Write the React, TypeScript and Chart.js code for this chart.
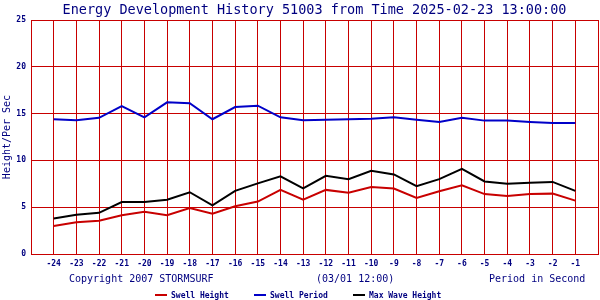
import React, { useEffect, useRef } from "react";
import { Chart, registerables } from "chart.js";

Chart.register(...registerables);

const TITLE = "Energy Development History 51003 from Time 2025-02-23 13:00:00";
const Y_TITLE = "Height/Per Sec";
const FOOTER_LEFT = "Copyright 2007 STORMSURF";
const FOOTER_MID = "(03/01 12:00)";
const FOOTER_RIGHT = "Period in Second";

const hours = [-24, -23, -22, -21, -20, -19, -18, -17, -16, -15, -14, -13, -12, -11, -10, -9, -8, -7, -6, -5, -4, -3, -2, -1];
const swellHeight = [3.0, 3.4, 3.55, 4.15, 4.5, 4.15, 4.9, 4.3, 5.1, 5.6, 6.85, 5.8, 6.85, 6.55, 7.15, 7.0, 6.0, 6.7, 7.35, 6.4, 6.2, 6.4, 6.45, 5.7];
const swellPeriod = [14.4, 14.3, 14.55, 15.8, 14.6, 16.2, 16.1, 14.4, 15.7, 15.85, 14.6, 14.3, 14.35, 14.4, 14.45, 14.6, 14.35, 14.1, 14.55, 14.25, 14.25, 14.1, 14.0, 14.0];
const maxWaveHeight = [3.8, 4.2, 4.4, 5.55, 5.55, 5.8, 6.6, 5.2, 6.75, 7.55, 8.3, 7.0, 8.35, 8.0, 8.9, 8.5, 7.25, 8.0, 9.1, 7.75, 7.5, 7.6, 7.7, 6.75];

const seriesNames = ["Swell Height", "Swell Period", "Max Wave Height"];
const seriesColors = ["#c80000", "#0000c8", "#000000"];
const xMin = -25;
const xMax = 0;
const yMin = 0;
const yMax = 25;
const yStep = 5;

const NAVY = "#000080";
const GRID = "#c80000";
const MONO = "'DejaVu Sans Mono', monospace";

const textPlugin = {
  id: "stormTexts",
  afterDraw(chart: any) {
    const ctx = chart.ctx as CanvasRenderingContext2D;
    const area = chart.chartArea;
    ctx.save();
    ctx.fillStyle = NAVY;
    ctx.textBaseline = "alphabetic";
    // title
    ctx.font = `13.5px ${MONO}`;
    ctx.textAlign = "center";
    ctx.fillText(TITLE, (area.left + area.right) / 2, 14);
    // footers
    ctx.font = `10px ${MONO}`;
    ctx.textAlign = "left";
    ctx.fillText(FOOTER_LEFT, 69, 282);
    ctx.fillText(FOOTER_MID, 316, 282);
    ctx.fillText(FOOTER_RIGHT, 489, 282);
    // legend
    const starts = [155, 254, 353];
    ctx.font = `bold 8px ${MONO}`;
    seriesNames.forEach((name, i) => {
      ctx.fillStyle = seriesColors[i];
      ctx.fillRect(starts[i], 294, 12, 2);
      ctx.fillStyle = NAVY;
      ctx.fillText(name, starts[i] + 16, 298);
    });
    ctx.restore();
  },
};

export default function App() {
  const ref = useRef<HTMLCanvasElement | null>(null);
  useEffect(() => {
    document.body.style.margin = "0";
    const canvas = ref.current;
    if (!canvas) return;
    const datasets = [swellHeight, swellPeriod, maxWaveHeight].map((vals, i) => ({
      label: seriesNames[i],
      data: hours.map((h, j) => ({ x: h, y: vals[j] })),
      borderColor: seriesColors[i],
      backgroundColor: seriesColors[i],
      borderWidth: 2,
      pointRadius: 0,
      tension: 0,
      fill: false,
    }));
    const chart = new Chart(canvas, {
      type: "line",
      data: { datasets },
      plugins: [textPlugin],
      options: {
        animation: false,
        responsive: false,
        maintainAspectRatio: false,
        devicePixelRatio: 1,
        layout: { padding: { top: 20, right: 2, left: 0, bottom: 0 } },
        plugins: {
          legend: { display: false },
          title: { display: false },
          tooltip: { enabled: false },
        },
        scales: {
          x: {
            type: "linear",
            min: xMin,
            max: xMax,
            afterFit: (s: any) => {
              s.height = 46;
              s.paddingLeft = 0;
              s.paddingRight = 0;
            },
            ticks: {
              stepSize: 1,
              autoSkip: false,
              maxRotation: 0,
              color: NAVY,
              padding: 5,
              font: { family: MONO, size: 8, weight: "bold" },
              callback: (v: any) => (v === xMin || v === xMax ? "" : String(v)),
            },
            grid: { color: GRID, lineWidth: 1, drawTicks: false },
            border: { color: GRID, width: 1 },
          },
          y: {
            min: yMin,
            max: yMax,
            afterFit: (s: any) => {
              s.width = 31;
              s.paddingTop = 0;
              s.paddingBottom = 0;
            },
            ticks: {
              stepSize: yStep,
              color: NAVY,
              padding: 5,
              font: { family: MONO, size: 8, weight: "bold" },
            },
            grid: { color: GRID, lineWidth: 1, drawTicks: false },
            border: { color: GRID, width: 1 },
            title: {
              display: true,
              text: Y_TITLE,
              color: NAVY,
              padding: { top: 1.5, bottom: 0 },
              font: { family: MONO, size: 10 },
            },
          },
        },
      },
    });
    return () => chart.destroy();
  }, []);
  return (
    <div style={{ width: 600, height: 300, background: "#fff" }}>
      <canvas ref={ref} width={600} height={300} style={{ display: "block" }} />
    </div>
  );
}
